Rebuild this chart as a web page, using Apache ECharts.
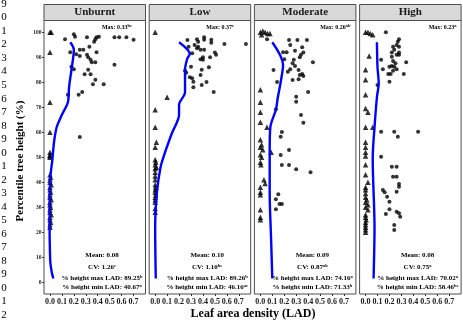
<!DOCTYPE html>
<html>
<head>
<meta charset="UTF-8">
<title>Leaf area density profiles</title>
<style>
  html, body {margin: 0; padding: 0; background: #fff;}
  #chart {width: 463px; height: 322px;}
</style>
</head>
<body>
<div id="chart"></div>
<script src="https://cdn.jsdelivr.net/npm/echarts@6/dist/echarts.min.js"></script>
<script>
// one facet per fire severity class
var panels = ['Unburnt', 'Low', 'Moderate', 'High'];
var yTicks = [0, 10, 20, 30, 40, 50, 60, 70, 80, 90, 100];
var xTicks = [0, 0.1, 0.2, 0.3, 0.4, 0.5, 0.6, 0.7];

// [LAD, percentile height]
var unburntCircles = [[0.126,97.2],[0.20,99.2],[0.21,98.2],[0.31,98],[0.39,98],[0.41,98.2],[0.38,97.2],[0.37,96.2],
  [0.54,98],[0.58,98],[0.64,98],[0.70,97],[0.17,92],[0.25,93],[0.28,93],[0.22,91.2],[0.25,90.5],[0.31,91],
  [0.33,94.2],[0.39,92],[0.32,90],[0.35,88],[0.38,88],[0.34,89],[0.54,87],[0.18,86.2],[0.20,85.2],[0.32,85],
  [0.29,83.2],[0.34,83.2],[0.38,81],[0.36,79.2],[0.45,79.2],[0.27,76.1],[0.24,75],[0.15,75],[0.25,58.1]];
var unburntTriangles = [[0,100],[0.01,100],[0,92],[0,72],[0,60],[0,52],[0,51],[0,50.5],[0,50],
  [0,43],[0.005,42],[0,41],[0,40],[0.01,39],[0,38],[0,37],[0.005,36],[0,35],[0,34],[0.01,33],[0,32],
  [0,31],[0.005,30],[0,29],[0,28],[0.01,27],[0,26],[0,25],[0.005,24],[0,23],[0,22]];
var unburntLine = [[0.17,96],[0.2,93],[0.18,85],[0.16,78],[0.15,72],[0.1,67],[0.056,62],[0.034,56],[0.02,49],
  [0.005,43],[0,38],[-0.003,30],[-0.003,20],[0,12],[0.003,8],[0.015,4],[0.028,1.5]];

var lowCircles = [[0.27,96.9],[0.35,97.2],[0.36,96.2],[0.41,98],[0.41,97],[0.47,97],[0.47,95.8],[0.58,95.3],
  [0.76,95.3],[0.28,94.2],[0.33,94.9],[0.35,93.6],[0.38,93],[0.41,93],[0.36,94.2],[0.50,91.9],[0.51,91],
  [0.46,90],[0.40,90],[0.38,89.2],[0.40,89],[0.31,91.6],[0.30,86.2],[0.45,86],[0.39,85],[0.25,84.6],
  [0.26,83.8],[0.38,82.9],[0.29,82],[0.31,81.6],[0.32,80.2],[0.43,80.1],[0.39,78.9],[0.32,78],[0.49,76.1]];
var lowTriangles = [[0,100],[0.1,74],[0,69],[0,62],[0.01,56],[0,54],[0,49],[0.005,48],[0,47],[0.01,46],
  [0,45.5],[0,44],[0,42.5],[0,41],[0,39],[0.005,38],[0,37],[0,36],[0.005,35],[0,34],[0,33],[0,32],[0,29.5],[0,28]];
var lowLine = [[0.2,96],[0.29,91.3],[0.27,89.6],[0.25,85],[0.25,76],[0.2,71],[0.2,67],[0.14,59.6],[0.08,51.6],
  [0.045,46],[0.014,35.6],[0,22],[0.005,1.5]];

var moderateCircles = [[0.056,97.2],[0.24,96.9],[0.31,96.9],[0.39,96.9],[0.25,94.9],[0.35,94],[0.29,92.6],
  [0.19,92],[0.22,92],[0.36,91.9],[0.34,91],[0.33,90],[0.20,89.2],[0.28,89],[0.44,88],[0.27,87.6],[0.29,86.5],
  [0.25,85.2],[0.23,84.2],[0.32,84.9],[0.11,84.9],[0.35,83.3],[0.33,82.9],[0.36,82.5],[0.32,81.2],[0.27,80.9],
  [0.14,80.1],[0.40,76.1],[0.30,74.2],[0.30,72.2],[0.13,69.2],[0.34,66.9],[0.36,63.8],[0.18,60.1],[0.17,58.2],
  [0.24,52.9],[0.17,50.9],[0.18,46.9],[0.24,46.9],[0.30,45.2],[0.42,44],[0.15,35.2],[0.13,33.2],[0.16,31.3],
  [0.18,31.3],[0.13,29.2]];
var moderateTriangles = [[0,100],[0.02,100.5],[0.04,100],[0.06,99.5],[0.08,99.5],[0.01,99],[0,77],[0,72],
  [0,68],[0,64],[0.055,62],[0,57],[0.01,55],[0,54],[0.02,53],[0.09,52],[0,51],[0.01,50],[0,48],[0.005,47],
  [0.03,41],[0.04,39.5],[0,38],[0,36],[0,35],[0,29],[0,26],[0,25]];
var moderateLine = [[0.1,96],[0.19,87],[0.17,80],[0.145,73.6],[0.13,69],[0.084,62.2],[0.078,53],[0.078,36],
  [0.09,17],[0.1,1.5]];

var highCircles = [[0.17,100],[0.28,97.2],[0.27,96.2],[0.26,94.9],[0.23,94.2],[0.28,94.2],[0.24,93],[0.22,91.9],
  [0.28,91.9],[0.26,91],[0.22,90.2],[0.28,91],[0.13,89],[0.23,88.5],[0.34,88],[0.25,87.6],[0.22,86.5],[0.24,86.2],
  [0.20,86.2],[0.145,85.2],[0.26,85.2],[0.23,84.6],[0.19,83.3],[0.21,83.3],[0.32,83.3],[0.20,80.2],[0.10,78.9],
  [0.13,60.2],[0.24,60.2],[0.27,58.2],[0.44,60.2],[0.13,50.2],[0.22,46.2],[0.26,46.2],[0.23,42.2],[0.26,42.2],
  [0.28,39.3],[0.28,38.2],[0.26,36.2],[0.145,36.9],[0.16,36],[0.18,34.2],[0.20,32.2],[0.20,29.2],[0.17,27.3],
  [0.26,28.2],[0.28,27.6],[0.29,26.2],[0.24,22.9],[0.24,20.9]];
var highTriangles = [[0,100],[0.02,100],[0.04,99.5],[0.06,99],[0.03,90.5],[0,85],[0,81],[0,75],[0,69.5],
  [0.02,68],[0,62],[0.06,62],[0,56],[0,54],[0,52],[0,50.5],[0,47],[0,43],[0.02,40],[0,38],[0,37],[0,35.5],
  [0,34],[0.01,33],[0,32],[0.02,31],[0,30],[0.02,29],[0,27],[0,26],[0.005,25],[0,24],[0,23],[0,22],[0,21],[0,20]];
var highLine = [[0.095,96],[0.1,86],[0.11,79.6],[0.095,74],[0.075,62],[0.06,50],[0.06,49],[0.075,22],[0.067,1.5]];

// panel statistics
var maxVals = ['0.33', '0.37', '0.26', '0.23'];
var maxSup = ['bc', 'c', 'ab', 'a'];
var meanVals = ['0.08', '0.10', '0.09', '0.08'];
var cvVals = ['1.26', '1.10', '0.87', '0.75'];
var cvSup = ['c', 'bc', 'ab', 'a'];
var hMaxVals = ['89.25', '89.26', '74.16', '70.02'];
var hMaxSup = ['b', 'b', 'a', 'a'];
var hMinVals = ['40.67', '46.16', '71.33', '58.46'];
var hMinSup = ['a', 'ac', 'b', 'bc'];

var circles = [unburntCircles, lowCircles, moderateCircles, highCircles];
var triangles = [unburntTriangles, lowTriangles, moderateTriangles, highTriangles];
var lines = [unburntLine, lowLine, moderateLine, highLine];

var FONT = '"Liberation Serif", "Times New Roman", serif';
var lefts = [44, 149.2, 254.4, 359.6];
var panelW = 101.5;
var panelTop = 20.5;
var panelBottom = 294;
var maxOffset = [73, 71, 81, 83];

var chart = echarts.init(document.getElementById('chart'), null, {renderer: 'canvas'});

var grids = [], xAxes = [], yAxes = [], series = [], graphics = [];

var rich = {
  n: {fontFamily: FONT, fontWeight: 'bold', fontSize: 7, lineHeight: 8, color: '#000'},
  m: {fontFamily: FONT, fontWeight: 'bold', fontSize: 6, lineHeight: 7, color: '#000'},
  s: {fontFamily: FONT, fontWeight: 'bold', fontSize: 4.5, verticalAlign: 'top', color: '#000'}
};

function label(x, y, text, align) {
  return {
    type: 'text', x: x, y: y, z: 10,
    style: {
      text: text, rich: rich,
      align: align, textAlign: align,
      verticalAlign: 'middle', textVerticalAlign: 'middle'
    }
  };
}

for (var i = 0; i < panels.length; i++) {
  var L = lefts[i];
  grids.push({
    left: L, top: panelTop, width: panelW, height: panelBottom - panelTop,
    show: true, backgroundColor: '#fff', borderColor: '#4d4d4d', borderWidth: 1
  });
  xAxes.push({
    type: 'value', gridIndex: i, min: -0.05, max: 0.8, position: 'bottom',
    axisLine: {show: false, onZero: false}, splitLine: {show: false},
    axisTick: {show: true, length: 2, customValues: xTicks, lineStyle: {color: '#333'}},
    axisLabel: {
      customValues: xTicks, margin: 3.5, fontSize: 8, fontWeight: 'bold', fontFamily: FONT, color: '#1a1a1a',
      formatter: function (v) { return v.toFixed(1); }
    }
  });
  yAxes.push({
    type: 'value', gridIndex: i, min: -4.7, max: 104.7, position: 'left',
    axisLine: {show: false, onZero: false}, splitLine: {show: false},
    axisTick: {show: i === 0, length: 2, customValues: yTicks, lineStyle: {color: '#333'}},
    axisLabel: {
      show: i === 0, customValues: yTicks, margin: 2.5, fontSize: 5.5, fontWeight: 'bold', fontFamily: FONT, color: '#1a1a1a'
    }
  });
  series.push({
    type: 'scatter', xAxisIndex: i, yAxisIndex: i, data: circles[i],
    symbol: 'circle', symbolSize: 4, itemStyle: {color: '#000'}, silent: true
  });
  series.push({
    type: 'scatter', xAxisIndex: i, yAxisIndex: i, data: triangles[i],
    symbol: 'triangle', symbolSize: 5.5, itemStyle: {color: '#000'}, silent: true
  });
  series.push({
    type: 'line', xAxisIndex: i, yAxisIndex: i, data: lines[i],
    showSymbol: false, smooth: 0.3, lineStyle: {color: '#0000ff', width: 2.4}, silent: true, z: 3
  });

  // strip header
  graphics.push({
    type: 'rect', shape: {x: L, y: 4.5, width: panelW, height: panelTop - 4.5},
    style: {fill: '#d9d9d9', stroke: '#4d4d4d', lineWidth: 1}
  });
  graphics.push({
    type: 'text', x: L + panelW / 2, y: 12.5,
    style: {
      text: panels[i], font: 'bold 11px ' + FONT, fill: '#1a1a1a',
      align: 'center', textAlign: 'center', verticalAlign: 'middle', textVerticalAlign: 'middle'
    }
  });

  graphics.push(label(L + maxOffset[i], 27, '{m|Max: ' + maxVals[i] + '}{s|' + maxSup[i] + '}', 'center'));
  var cx = L + 58;
  graphics.push(label(cx, 255, '{n|Mean: ' + meanVals[i] + '}', 'center'));
  graphics.push(label(cx, 267, '{n|CV: ' + cvVals[i] + '}{s|' + cvSup[i] + '}', 'center'));
  graphics.push(label(cx, 278.3, '{n|% height max LAD: ' + hMaxVals[i] + '}{s|' + hMaxSup[i] + '}', 'center'));
  graphics.push(label(cx, 287.3, '{n|% height min LAD: ' + hMinVals[i] + '}{s|' + hMinSup[i] + '}', 'center'));
}

// axis titles
graphics.push({
  type: 'text', x: 20, y: 161, rotation: Math.PI / 2,
  style: {
    text: 'Percentile tree height (%)', font: 'bold 11px ' + FONT, fill: '#000',
    align: 'center', textAlign: 'center', verticalAlign: 'middle', textVerticalAlign: 'middle'
  }
});
graphics.push({
  type: 'text', x: 253, y: 314,
  style: {
    text: 'Leaf area density (LAD)', font: 'bold 12px ' + FONT, fill: '#000',
    align: 'center', textAlign: 'center', verticalAlign: 'middle', textVerticalAlign: 'middle'
  }
});

// manuscript line numbers down the left margin
var lineDigits = ['9','0','1','2','3','4','5','6','7','8','9','0','1','2','3','4','5','6','7','8','9','0','1','2'];
for (var k = 0; k < lineDigits.length; k++) {
  graphics.push({
    type: 'text', x: 4, y: 4 + k * 13.52,
    style: {
      text: lineDigits[k], font: '11px ' + FONT, fill: '#000',
      align: 'center', textAlign: 'center', verticalAlign: 'middle', textVerticalAlign: 'middle'
    }
  });
}

chart.setOption({
  animation: false,
  backgroundColor: '#fff',
  grid: grids,
  xAxis: xAxes,
  yAxis: yAxes,
  series: series,
  graphic: graphics
});
</script>
</body>
</html>
